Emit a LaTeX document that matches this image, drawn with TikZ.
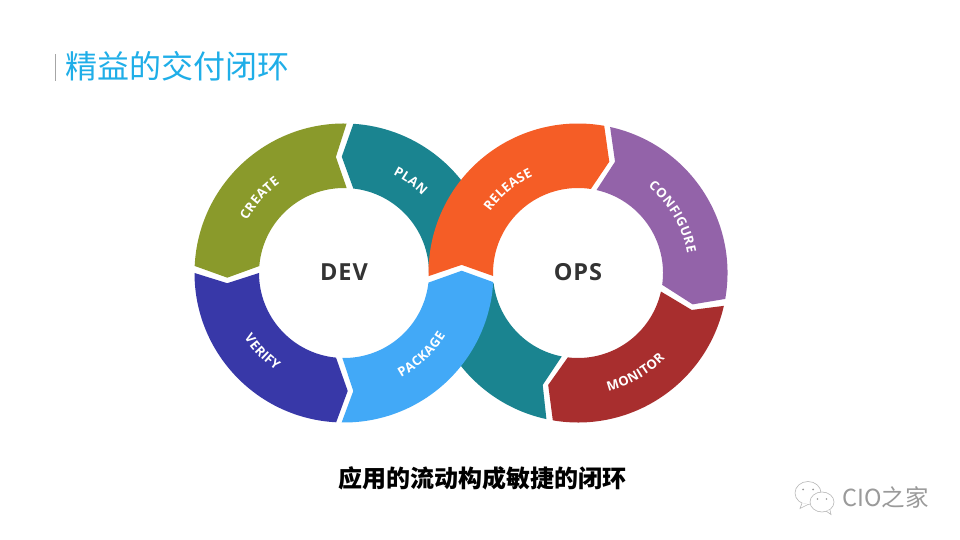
\documentclass[tikz,border=0pt]{standalone}
\usepackage{fontspec}
\newfontfamily\cjkfont{Noto Sans CJK SC}
\newfontfamily\labelfont{Open Sans}
\newfontfamily\hubfont[LetterSpace=4]{Open Sans}
\def\seglabel{\labelfont\bfseries\fontsize{13}{13}\selectfont}
\definecolor{cOlive}{HTML}{8A9A2B}
\definecolor{cTeal}{HTML}{1A8490}
\definecolor{cOrange}{HTML}{F55D26}
\definecolor{cPurple}{HTML}{9363A9}
\definecolor{cRed}{HTML}{A82E2E}
\definecolor{cNavy}{HTML}{3838A8}
\definecolor{cBlue}{HTML}{42A9F7}
\definecolor{cTitle}{HTML}{1FAEE8}
\definecolor{cHub}{HTML}{333333}
\definecolor{cMark}{HTML}{9A9A9A}
\tikzset{
  hublabel/.style={font=\hubfont\bfseries\fontsize{23.5}{23.5}\selectfont,text=cHub,inner sep=0pt},
  wechat/.style={draw=cMark!70,line width=0.6pt,fill=white},
  letterlabel/.style={font=\seglabel,text=white,inner sep=0pt,anchor=base},
}
\newcommand{\seg}[9]{% colour, outer start/end, tip angle/radius, inner start/end, tip angle/radius
  \fill[#1] (#2:149.5) arc[start angle=#2,end angle=#3,radius=149.5]
    -- (#4:#5) -- (#6:85) arc[start angle=#6,end angle=#7,radius=85] -- (#8:#9) -- cycle;}
% advance widths of the label font's capitals, in em
\def\wA{0.690}\def\wC{0.637}\def\wE{0.560}\def\wF{0.549}\def\wG{0.724}\def\wI{0.331}
\def\wK{0.652}\def\wL{0.565}\def\wM{0.943}\def\wN{0.813}\def\wO{0.796}\def\wP{0.628}
\def\wR{0.660}\def\wS{0.551}\def\wT{0.579}\def\wU{0.756}\def\wV{0.660}\def\wY{0.624}
\newdimen\wordlen
\newdimen\wordpos
\newdimen\letterw
\def\tracking{0.4pt}
% baseline radius, middle angle, +1 (letters run anticlockwise, tops inward) or -1 (clockwise, tops outward), name, letters
\newcommand{\arcword}[5]{%
  \global\wordlen=0pt
  \foreach \ch in {#5}{%
    \letterw=\csname w\ch\endcsname\dimexpr 13pt\relax
    \global\advance\wordlen by \letterw
    \global\advance\wordlen by \tracking}%
  \global\advance\wordlen by -\tracking
  \global\wordpos=0pt
  \foreach \ch [count=\idx] in {#5}{%
    \letterw=\csname w\ch\endcsname\dimexpr 13pt\relax
    \pgfmathsetmacro{\letterang}{#2+(#3)*(\the\wordpos+0.5*\the\letterw-0.5*\the\wordlen)*57.29578/(#1)}%
    \pgfmathsetmacro{\letterrot}{\letterang+(#3)*90}%
    \node[letterlabel,rotate=\letterrot] (#4\idx) at (\letterang:#1) {\ch};%
    \global\advance\wordpos by \letterw
    \global\advance\wordpos by \tracking}%
}
\begin{document}
\begin{tikzpicture}[x=1pt,y=1pt]
\useasboundingbox (0,0) rectangle (960,540);
\fill[white] (0,0) rectangle (960,540);
% title
\fill[black!35] (54.7,459) rectangle (56.3,486);
\node[anchor=west,inner sep=0pt,text=cTitle,font=\cjkfont\fontsize{32}{32}\selectfont] (title) at (65,473.5) {精益的交付闭环};
% DEV ring
\begin{scope}[shift={(344,267)}]
  \fill[cTeal] (86.4:149.5) arc[start angle=86.4,end angle=20,radius=149.5]
    -- (0:85) arc[start angle=0,end angle=83.7,radius=85] -- (91.1:116.3) -- cycle;
  \seg{cOlive}{89}{177.3}{182.3}{116.8}{175.3}{88.2}{94}{116.3}
  \seg{cNavy}{180}{267}{271.8}{118}{264.6}{180}{185}{117.2}
\end{scope}
% OPS ring
\begin{scope}[shift={(578,267)}]
  \fill[cTeal] (257.8:149.5) arc[start angle=257.8,end angle=205,radius=149.5]
    -- (186.7:85) arc[start angle=186.7,end angle=259,radius=85] -- (252.5:117.4) -- cycle;
  \seg{cOrange}{79.9}{181.2}{176}{116.6}{182}{81.3}{74.3}{115.6}
  \seg{cPurple}{77.6}{-10}{-15.3}{118.9}{-8}{77.4}{71.6}{117.3}
  \seg{cRed}{-12.7}{-99.7}{-104.9}{115.9}{-96.9}{-12.6}{-18}{119.6}
\end{scope}
\begin{scope}[shift={(344,267)}]
  \seg{cBlue}{-3.5}{-90.9}{-85.5}{118.4}{-91.1}{-6.5}{1.1}{117.7}
  \arcword{110}{138.6}{-1}{create}{C,R,E,A,T,E}
  \arcword{110}{54}{-1}{plan}{P,L,A,N}
  \arcword{119}{224}{1}{verify}{V,E,R,I,F,Y}
  \arcword{119}{-46.4}{1}{package}{P,A,C,K,A,G,E}
\end{scope}
\begin{scope}[shift={(578,267)}]
  \arcword{107}{130}{-1}{release}{R,E,L,E,A,S,E}
  \arcword{111}{30.5}{-1}{configure}{C,O,N,F,I,G,U,R,E}
  \arcword{122}{-60}{1}{monitor}{M,O,N,I,T,O,R}
\end{scope}
\node[hublabel] (dev) at (344,268) {DEV};
\node[hublabel] (ops) at (578,268) {OPS};
% caption
\node[inner sep=0pt,text=black,font=\cjkfont\bfseries\fontsize{24}{24}\selectfont] (caption) at (482,62) {应用的流动构成敏捷的闭环};
% watermark
\draw[wechat] (808,47) ellipse[x radius=13,y radius=11.5];
\draw[wechat] (802,37) -- (800,31.5) -- (808,35.5);
\draw[wechat] (822,38) ellipse[x radius=12,y radius=10];
\draw[wechat] (826,29) -- (831,25.5) -- (830,30);
\fill[cMark] (803,50.5) circle[radius=1] (813,50.5) circle[radius=1] (817.5,41) circle[radius=0.8] (826.5,41) circle[radius=0.8];
\node[anchor=west,inner sep=0pt,text=cMark,font=\cjkfont\fontsize{23.5}{23.5}\selectfont] (mark) at (842,43) {CIO之家};
\end{tikzpicture}
\end{document}
